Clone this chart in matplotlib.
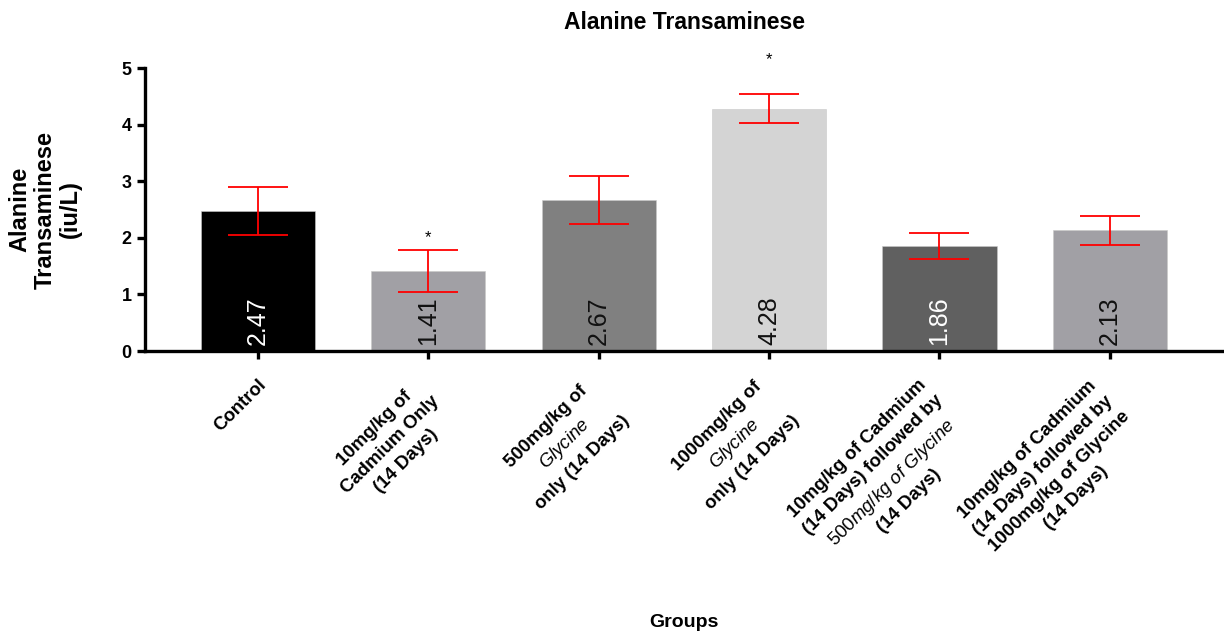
import numpy as np
import matplotlib
matplotlib.use("Agg")
import matplotlib.pyplot as plt
from matplotlib.transforms import ScaledTranslation

plt.rcParams['font.family'] = ['Liberation Sans', 'DejaVu Sans']
plt.rcParams['mathtext.fontset'] = 'custom'
plt.rcParams['mathtext.it'] = 'Liberation Sans:italic'
plt.rcParams['mathtext.rm'] = 'Liberation Sans'

# data
groups = [
    "Control",
    "10mg/kg of\nCadmium Only\n(14 Days)",
    "500mg/kg of\n$\\it{Glycine}$\nonly (14 Days)",
    "1000mg/kg of\n$\\it{Glycine}$\nonly (14 Days)",
    "10mg/kg of Cadmium\n(14 Days) followed by\n$\\it{500mg/kg\\ of\\ Glycine}$\n(14 Days)",
    "10mg/kg of Cadmium\n(14 Days) followed by\n1000mg/kg of Glycine\n(14 Days)",
]
means = [2.47, 1.41, 2.67, 4.28, 1.86, 2.13]
errors = [0.42, 0.37, 0.42, 0.26, 0.23, 0.25]
star_heights = [None, 2.0, None, 5.15, None, None]

bar_colors = ['#000000', '#a1a0a5', '#808080', '#d4d4d4', '#606060', '#a1a0a5']
label_colors = ['white', '#111111', '#111111', '#111111', 'white', '#111111']

fig = plt.figure(figsize=(12.24, 6.32), dpi=100)
ax = fig.add_axes([0.1185, 0.4446, 0.8815, 0.4478])

x = np.arange(len(means))
ax.bar(x, means, width=0.67, color=bar_colors, edgecolor='#c8c8c8', linewidth=0.4, zorder=2)
ax.errorbar(x, means, yerr=errors, fmt='none', ecolor='red', elinewidth=1.3,
            capsize=21.5, capthick=1.3, zorder=3)

for xi, m, c in zip(x, means, label_colors):
    ax.text(xi, 0.1, f"{m:.2f}", rotation=90, ha='center', va='bottom',
            fontsize=18, color=c, zorder=4)

for xi, s in zip(x, star_heights):
    if s is not None:
        ax.text(xi, s, "*", ha='center', va='center', fontsize=12, clip_on=False)

ax.spines['top'].set_visible(False)
ax.spines['right'].set_visible(False)
ax.spines['left'].set_linewidth(2.4)
ax.spines['bottom'].set_linewidth(2.4)
ax.tick_params(axis='both', width=2.4, length=6, direction='out')
ax.tick_params(axis='x', pad=12)

ax.set_xlim(-0.663, 5.67)
ax.set_ylim(0, 5)
ax.set_yticks(range(6))
ax.set_xticks(x)
ax.set_xticklabels(groups, rotation=45, ha='right', rotation_mode='anchor',
                   multialignment='center', fontsize=13.4, fontweight='bold',
                   linespacing=1.45)
# longer labels sit a little further left of their tick
for lbl, g in zip(ax.get_xticklabels(), groups):
    n = g.count("\n")
    lbl.set_transform(lbl.get_transform() +
                      ScaledTranslation(-7 * n / 100, 0, fig.dpi_scale_trans))
for lbl in ax.get_yticklabels():
    lbl.set_fontweight('bold')
    lbl.set_fontsize(13)

ax.set_title("Alanine Transaminese", fontsize=16.5, fontweight='bold', pad=28)
ax.set_ylabel("Alanine\nTransaminese\n(iu/L)", fontsize=17, fontweight='bold',
              labelpad=29, linespacing=1.1)
fig.text(0.5585, 0.015, "Groups", ha='center', va='center', fontsize=14,
         fontweight='bold')

fig.savefig("out.png", dpi=100)
